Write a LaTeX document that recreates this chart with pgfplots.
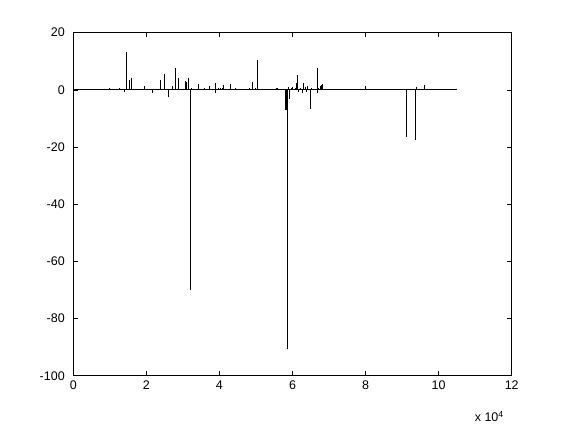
\documentclass[border=0pt]{standalone}
\usepackage{fontspec}
\setmainfont{Liberation Sans}
\usepackage{pgfplots}
\pgfplotsset{compat=1.18}
\begin{document}
\begin{tikzpicture}[x=1pt,y=1pt]
\path[use as bounding box, fill=white] (0,0) rectangle (567,425);
\begin{axis}[
  at={(73.3pt,49.3pt)}, anchor=south west,
  scale only axis, width=438.4pt, height=343pt,
  xmin=0, xmax=12, ymin=-100, ymax=20,
  xtick={0,2,4,6,8,10,12},
  xticklabels={0,2,4,6,8,10,12},
  ytick={-100,-80,-60,-40,-20,0,20},
  yticklabels={-100,-80,-60,-40,-20,0,20},
  tick align=inside, major tick length=4.4pt,
  xtick pos=both, ytick pos=both,
  ticklabel style={font=\fontsize{12.5}{15}\selectfont},
  xticklabel style={yshift=-1.5pt},
  yticklabel style={xshift=-5pt},
  axis line style={line width=0.7pt},
  every tick/.style={line width=0.7pt, black},
  clip=true,
]
\addplot[black, line width=1.1pt] coordinates {(0,0) (10.51,0)};
\addplot[black, line width=0.7pt, ycomb] coordinates {
(0.10,0.4) (0.16,0.4) (0.37,0.4) (0.65,0.4) (0.81,0.4) (1.00,0.5) (1.06,0.4) (1.26,0.5)
(1.41,-0.8) (1.44,13.3) (1.53,3.5) (1.59,4.2) (1.94,1.4) (2.17,-1.0) (2.39,3.5) (2.50,5.7)
(2.60,-2.4) (2.72,1.4) (2.78,7.7) (2.88,4.2) (3.06,3.1) (3.10,2.8) (3.15,4.2) (3.20,-70.0)
(3.23,0.5) (3.43,2.1) (3.60,0.6) (3.72,1.4) (3.88,2.4) (3.90,-1.0) (3.98,0.6) (4.03,0.8)
(4.09,0.6) (4.12,1.7) (4.31,2.0) (4.43,0.5) (4.82,0.5) (4.89,2.8) (4.98,0.5) (5.04,10.5)
(5.55,0.5) (5.58,0.5) (5.80,-7.0) (5.82,-7.0) (5.86,-90.5) (5.88,1.0) (5.91,-3.1) (5.96,0.8)
(5.99,1.0) (6.08,0.5) (6.11,2.5) (6.13,5.3) (6.17,-0.8) (6.22,0.6) (6.26,-1.0) (6.30,2.4)
(6.34,1.0) (6.37,-0.6) (6.42,1.2) (6.48,-6.6) (6.51,0.6) (6.68,7.7) (6.69,-1.0) (6.72,0.8)
(6.75,1.2) (6.79,1.8) (6.83,2.2) (7.94,0.4) (7.99,1.4) (8.52,0.3) (8.92,0.4) (8.98,0.4)
(9.12,-16.5) (9.36,-17.5) (9.40,1.0) (9.62,1.7) (9.96,0.4)
};
\end{axis}
\node[anchor=base east, inner sep=0pt, font=\fontsize{12.5}{15}\selectfont] at (504,3) {x 10\textsuperscript{4}};
\end{tikzpicture}
\end{document}
